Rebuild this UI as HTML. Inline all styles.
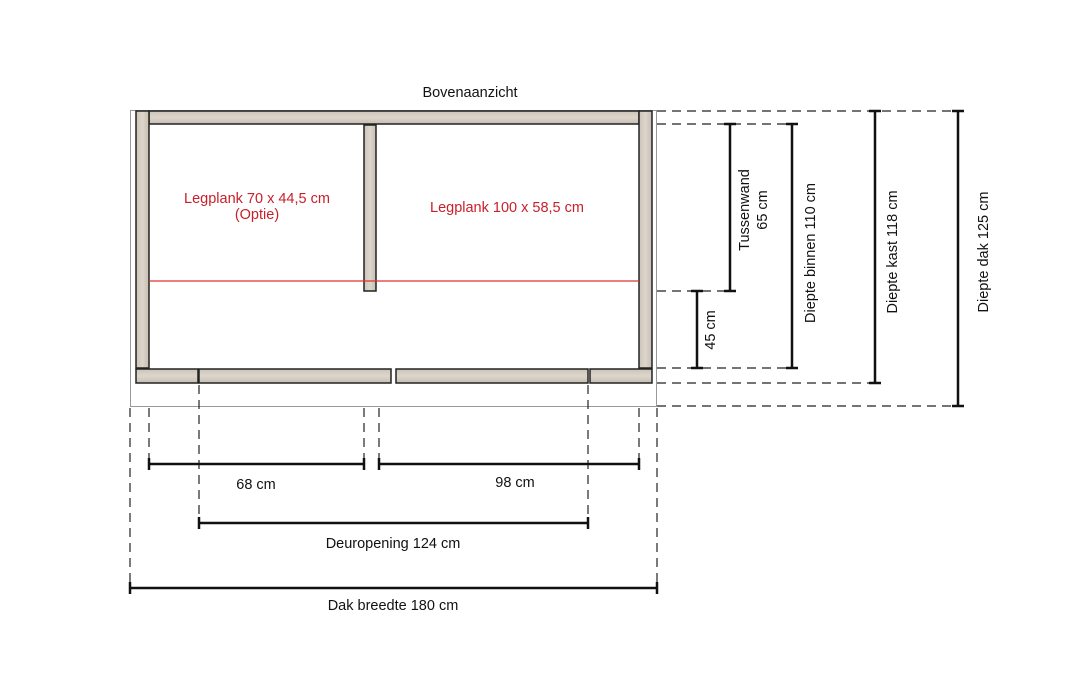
<!DOCTYPE html>
<html><head><style>body{margin:0;background:#fff}svg{display:block}text{font-family:"Liberation Sans",Arial,sans-serif;font-size:14.5px;fill:#111}</style></head>
<body>
<svg width="1080" height="687" viewBox="0 0 1080 687">
<defs><linearGradient id="w" x1="0" y1="0" x2="1" y2="0"><stop offset="0" stop-color="#cdc4b8"/><stop offset=".5" stop-color="#ddd6cc"/><stop offset="1" stop-color="#c6bdb0"/></linearGradient>
<linearGradient id="wv" x1="0" y1="0" x2="0" y2="1"><stop offset="0" stop-color="#cdc4b8"/><stop offset=".5" stop-color="#ddd6cc"/><stop offset="1" stop-color="#c6bdb0"/></linearGradient></defs>
<text x="470" y="97" text-anchor="middle" font-size="13.5">Bovenaanzicht</text>
<rect x="130.5" y="110.5" width="526" height="296" fill="none" stroke="#999" stroke-width="1"/>
<g stroke="#222" stroke-width="1.5">
<rect x="149" y="111" width="490" height="13" fill="url(#wv)"/>
<rect x="136" y="111" width="13" height="257" fill="url(#w)"/>
<rect x="639" y="111" width="13" height="257" fill="url(#w)"/>
<rect x="364" y="125" width="12" height="166" fill="url(#w)"/>
<rect x="136" y="369" width="62" height="14" fill="url(#wv)"/>
<rect x="199" y="369" width="192" height="14" fill="url(#wv)"/>
<rect x="396" y="369" width="192" height="14" fill="url(#wv)"/>
<rect x="590" y="369" width="62" height="14" fill="url(#wv)"/>
</g>
<line x1="149" y1="281" x2="639" y2="281" stroke="#d33" stroke-width="1.2"/>
<text x="257" y="203" text-anchor="middle" font-size="15" style="fill:#c8202a">Legplank 70 x 44,5 cm</text>
<text x="257" y="219" text-anchor="middle" font-size="15" style="fill:#c8202a">(Optie)</text>
<text x="507" y="212" text-anchor="middle" font-size="15" style="fill:#c8202a">Legplank 100 x 58,5 cm</text>
<g stroke="#222" stroke-width="1.2" stroke-dasharray="9,6" fill="none">
<line x1="657" y1="111" x2="960" y2="111"/>
<line x1="657" y1="124" x2="795" y2="124"/>
<line x1="657" y1="291" x2="730" y2="291"/>
<line x1="657" y1="368" x2="795" y2="368"/>
<line x1="657" y1="383" x2="875" y2="383"/>
<line x1="657" y1="406" x2="960" y2="406"/>
<line x1="130" y1="408" x2="130" y2="590"/>
<line x1="149" y1="408" x2="149" y2="464"/>
<line x1="199" y1="385" x2="199" y2="523"/>
<line x1="364" y1="408" x2="364" y2="464"/>
<line x1="379" y1="408" x2="379" y2="464"/>
<line x1="588" y1="385" x2="588" y2="523"/>
<line x1="639" y1="408" x2="639" y2="464"/>
<line x1="657" y1="408" x2="657" y2="590"/>
</g>
<g stroke="#111" stroke-width="2.5">
<line x1="730" y1="124" x2="730" y2="291"/><line x1="724" y1="124" x2="736" y2="124"/><line x1="724" y1="291" x2="736" y2="291"/>
<line x1="697" y1="291" x2="697" y2="368"/><line x1="691" y1="291" x2="703" y2="291"/><line x1="691" y1="368" x2="703" y2="368"/>
<line x1="792" y1="124" x2="792" y2="368"/><line x1="786" y1="124" x2="798" y2="124"/><line x1="786" y1="368" x2="798" y2="368"/>
<line x1="875" y1="111" x2="875" y2="383"/><line x1="869" y1="111" x2="881" y2="111"/><line x1="869" y1="383" x2="881" y2="383"/>
<line x1="958" y1="111" x2="958" y2="406"/><line x1="952" y1="111" x2="964" y2="111"/><line x1="952" y1="406" x2="964" y2="406"/>
<line x1="149" y1="464" x2="364" y2="464"/><line x1="149" y1="458" x2="149" y2="470"/><line x1="364" y1="458" x2="364" y2="470"/>
<line x1="379" y1="464" x2="639" y2="464"/><line x1="379" y1="458" x2="379" y2="470"/><line x1="639" y1="458" x2="639" y2="470"/>
<line x1="199" y1="523" x2="588" y2="523"/><line x1="199" y1="517" x2="199" y2="529"/><line x1="588" y1="517" x2="588" y2="529"/>
<line x1="130" y1="588" x2="657" y2="588"/><line x1="130" y1="582" x2="130" y2="594"/><line x1="657" y1="582" x2="657" y2="594"/>
</g>
<text x="256" y="489" text-anchor="middle">68 cm</text>
<text x="515" y="487" text-anchor="middle">98 cm</text>
<text x="393" y="548" text-anchor="middle">Deuropening 124 cm</text>
<text x="393" y="610" text-anchor="middle">Dak breedte 180 cm</text>
<text transform="translate(749,210) rotate(-90)" text-anchor="middle">Tussenwand</text>
<text transform="translate(767,210) rotate(-90)" text-anchor="middle">65 cm</text>
<text transform="translate(715,330) rotate(-90)" text-anchor="middle">45 cm</text>
<text transform="translate(815,253) rotate(-90)" text-anchor="middle">Diepte binnen 110 cm</text>
<text transform="translate(897,252) rotate(-90)" text-anchor="middle">Diepte kast 118 cm</text>
<text transform="translate(988,252) rotate(-90)" text-anchor="middle">Diepte dak 125 cm</text>
</svg>
</body></html>
